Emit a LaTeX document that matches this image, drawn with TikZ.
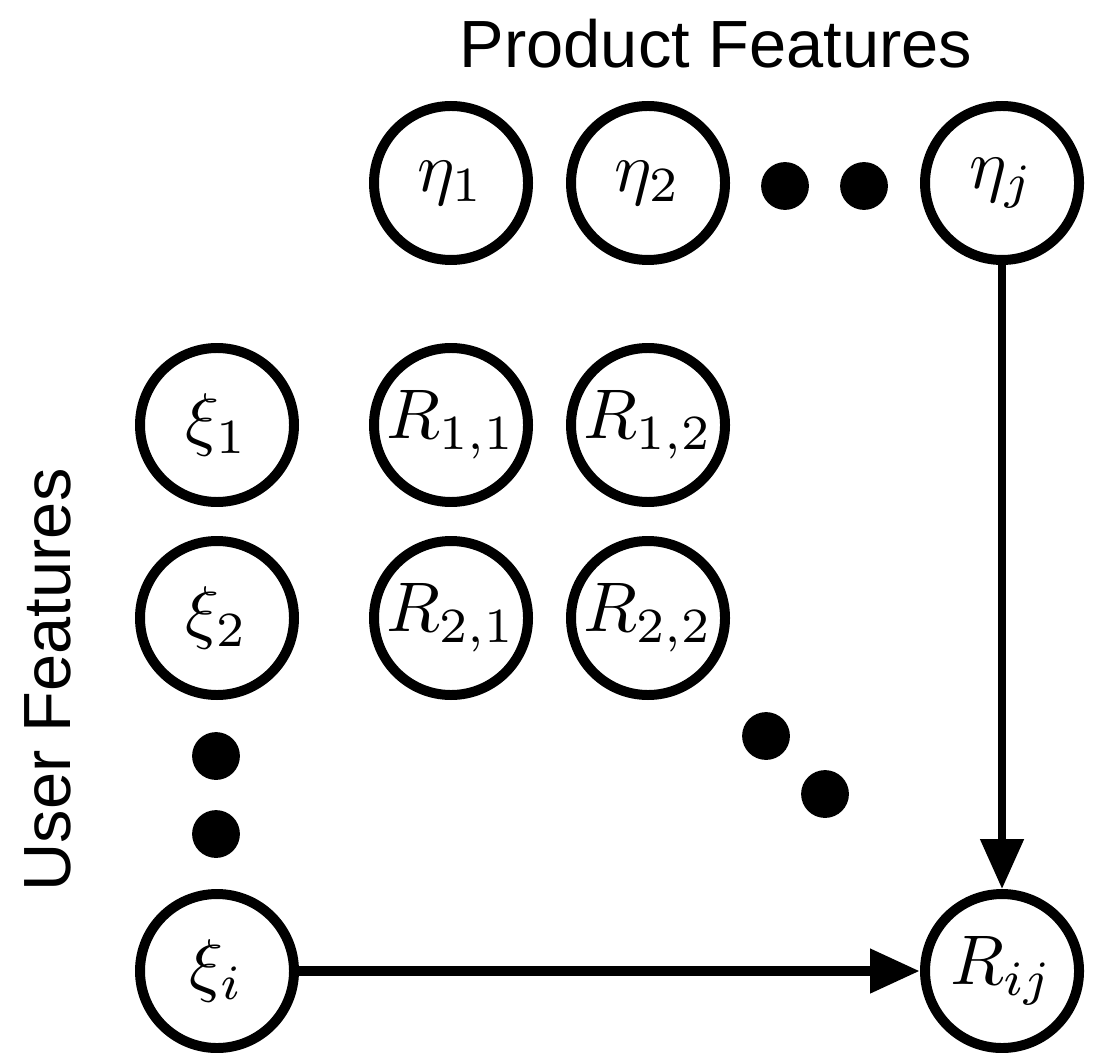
\documentclass[tikz,border=0pt]{standalone}
\usepackage{amsmath}
\usepackage{amssymb}
\usepackage{fontspec}
\setsansfont{Liberation Sans}
\usetikzlibrary{arrows.meta}

\tikzset{
  feat/.style={draw, circle, line width=1.42pt, minimum size=7.7mm, inner sep=0pt,
    font=\fontsize{9.6}{11}\selectfont},
  heading/.style={font=\sffamily\fontsize{9.5}{11}\selectfont},
  link/.style={line width=1.15pt, -{Triangle[length=2.5mm, width=2.1mm]}}
}

\begin{document}
\begin{tikzpicture}[scale=0.5]
                \useasboundingbox (0,0) rectangle (10.99,-10.52);
                % headings
                \node[heading] (prod) at (7.16,-0.44) {Product Features};
                \node[heading, rotate=90] (user) at (0.48,-6.80) {User Features};
                % product features
                \node[feat] (eta1) at (4.51,-1.83) {$\eta_1$};
                \node[feat] (eta2) at (6.48,-1.83) {$\eta_2$};
                \node[feat] (etaj) at (10.02,-1.83) {$\eta_j$};
                \filldraw[black] (7.85,-1.86) circle (0.225);
                \filldraw[black] (8.64,-1.86) circle (0.225);
                % user features
                \node[feat] (xi1) at (2.17,-4.25) {$\xi_1$};
                \node[feat] (xi2) at (2.17,-6.18) {$\xi_2$};
                \node[feat] (xii) at (2.17,-9.71) {$\xi_i$};
                \filldraw[black] (2.16,-7.56) circle (0.225);
                \filldraw[black] (2.16,-8.34) circle (0.225);
                % ratings
                \node[feat] (r11) at (4.51,-4.25) {$R_{1,1}$};
                \node[feat] (r12) at (6.48,-4.25) {$R_{1,2}$};
                \node[feat] (r21) at (4.51,-6.18) {$R_{2,1}$};
                \node[feat] (r22) at (6.48,-6.18) {$R_{2,2}$};
                \node[feat] (rij) at (10.02,-9.71) {$R_{ij}$};
                \filldraw[black] (7.66,-7.36) circle (0.225);
                \filldraw[black] (8.25,-7.94) circle (0.225);
                % links
                \draw[link] (etaj) -- (rij);
                \draw[link, line width=1.5pt] (xii) -- (rij);
            \end{tikzpicture}
\end{document}
